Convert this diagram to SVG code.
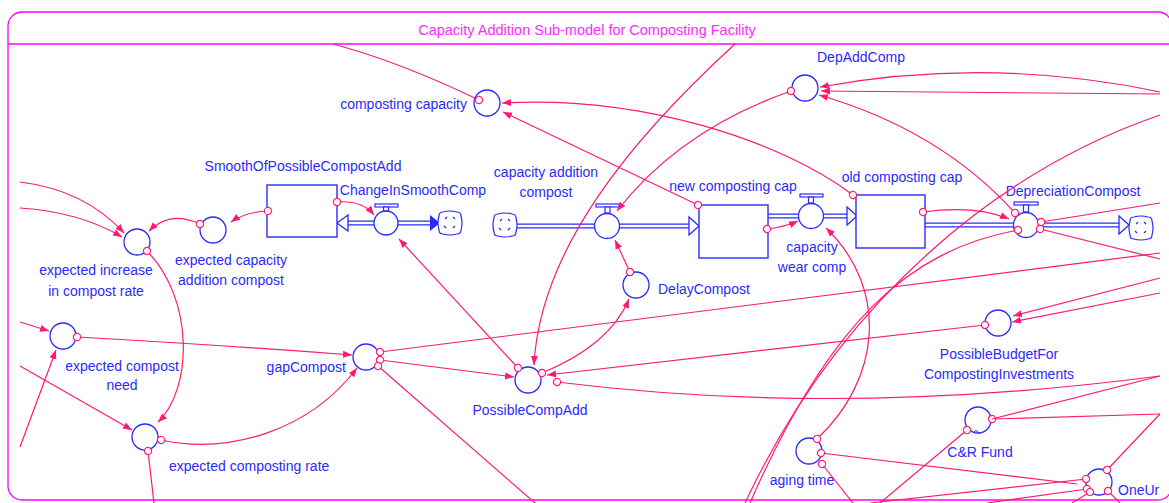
<svg xmlns="http://www.w3.org/2000/svg" width="1169" height="503" viewBox="0 0 1169 503">
<defs>
<style>
.lbl{font-family:"Liberation Sans",Arial,sans-serif;font-size:14px;fill:#2a2aff}
.ttl{font-family:"Liberation Sans",Arial,sans-serif;font-size:14.5px;fill:#ff2bff}
.aux{fill:#fff;stroke:#2a2aff;stroke-width:1.3}
.stock{fill:#fff;stroke:#2a2aff;stroke-width:1.4}
.lk{fill:none;stroke:#ff1a70;stroke-width:1.2}
.o{marker-start:url(#og)}
.a{marker-end:url(#ah)}
.po{fill:none;stroke:#2a2aff;stroke-width:5}
.pi{fill:none;stroke:#fff;stroke-width:2.4}
.ha{fill:#fff;stroke:#2a2aff;stroke-width:1.3}
.vb{fill:#fff;stroke:#2a2aff;stroke-width:1.2}
</style>
<marker id="ah" markerUnits="userSpaceOnUse" markerWidth="10" markerHeight="8" refX="9" refY="4" orient="auto"><path d="M0,0.5 L9,4 L0,7.5 z" fill="#ff1a70"/></marker>
<marker id="og" markerUnits="userSpaceOnUse" markerWidth="10" markerHeight="10" refX="5" refY="5" orient="auto"><circle cx="5" cy="5" r="3.6" fill="#fff" stroke="#ff1a70" stroke-width="1.2"/></marker>
<g id="cloud"><path d="M-7,-11 Q0,-13 7,-11 Q11,-11 11,-7 Q13,0 11,7 Q11,11 7,11 Q0,13 -7,11 Q-11,11 -11,7 Q-13,0 -11,-7 Q-11,-11 -7,-11 z" fill="#fff" stroke="#2a2aff" stroke-width="1.2"/><path d="M-5,-4 l2,-2 M3,-6 l2,2 M5,3 l-2,2 M-4,5 l-2,-2" stroke="#2a2aff" stroke-width="1.2" fill="none"/></g>
<clipPath id="edge"><rect x="0" y="0" width="1161" height="503"/></clipPath>
</defs>

<g id="frame">
<rect x="8" y="12" width="1164" height="488" rx="14" fill="none" stroke="#ff00ff" stroke-width="1.3"/>
<line x1="8" y1="44" x2="1172" y2="44" stroke="#ff00ff" stroke-width="1.3"/>
<text class="ttl" x="587" y="35" text-anchor="middle">Capacity Addition Sub-model for Composting Facility</text>
</g>

<g id="pipes">
<path class="po" d="M348,223 H430"/><path class="pi" d="M348,223 H430"/>
<path class="po" d="M517,226 H690"/><path class="pi" d="M517,226 H690"/>
<path class="po" d="M768,216 H848"/><path class="pi" d="M768,216 H848"/>
<path class="po" d="M925,225 H1120"/><path class="pi" d="M925,225 H1120"/>
<polygon class="ha" points="348,215 337,223 348,231"/>
<polygon points="430,215 440,223 430,231" fill="#2a2aff"/>
<polygon class="ha" points="689,217 699,226 689,235"/>
<polygon class="ha" points="847,207 857,216 847,225"/>
<polygon class="ha" points="1119,216 1129,225 1119,234"/>
<use href="#cloud" x="450" y="223"/>
<use href="#cloud" x="505" y="225"/>
<use href="#cloud" x="1141" y="228"/>
</g>

<g id="SmoothOfPossibleCompostAdd"><rect class="stock" x="267" y="185" width="70" height="52"/><text class="lbl" x="303" y="171" text-anchor="middle">SmoothOfPossibleCompostAdd</text></g>
<g id="new_composting_cap"><rect class="stock" x="699" y="205" width="69" height="53"/><text class="lbl" x="733" y="191" text-anchor="middle">new composting cap</text></g>
<g id="old_composting_cap"><rect class="stock" x="856" y="195" width="69" height="53"/><text class="lbl" x="902" y="182" text-anchor="middle">old composting cap</text></g>

<g id="ChangeInSmoothComp"><rect class="vb" x="375" y="204" width="23" height="3"/><rect class="vb" x="383.5" y="207" width="5" height="4"/><circle class="aux" cx="386" cy="223" r="12"/><text class="lbl" x="413" y="195" text-anchor="middle">ChangeInSmoothComp</text></g>
<g id="capacity_addition_compost"><rect class="vb" x="596" y="204" width="23" height="3"/><rect class="vb" x="605" y="207" width="5" height="6"/><circle class="aux" cx="607" cy="226" r="12.5"/><text class="lbl" x="546" y="177" text-anchor="middle">capacity addition</text><text class="lbl" x="546" y="197" text-anchor="middle">compost</text></g>
<g id="capacity_wear_comp"><rect class="vb" x="800" y="194" width="23" height="3"/><rect class="vb" x="808.5" y="197" width="5" height="6"/><circle class="aux" cx="811" cy="216" r="12.5"/><text class="lbl" x="812" y="252" text-anchor="middle">capacity</text><text class="lbl" x="812" y="272" text-anchor="middle">wear comp</text></g>
<g id="DepreciationCompost"><rect class="vb" x="1014" y="202" width="24" height="3"/><rect class="vb" x="1023.5" y="205" width="5" height="7"/><circle class="aux" cx="1026" cy="225" r="12.5"/><text class="lbl" x="1073" y="196" text-anchor="middle">DepreciationCompost</text></g>

<g id="composting_capacity"><circle class="aux" cx="487" cy="103" r="13"/><text class="lbl" x="467" y="109" text-anchor="end">composting capacity</text></g>
<g id="DepAddComp"><circle class="aux" cx="805" cy="88" r="13"/><text class="lbl" x="817" y="62">DepAddComp</text></g>
<g id="expected_capacity_addition_compost"><circle class="aux" cx="213" cy="230" r="13"/><text class="lbl" x="231" y="265" text-anchor="middle">expected capacity</text><text class="lbl" x="231" y="285" text-anchor="middle">addition compost</text></g>
<g id="expected_increase_in_compost_rate"><circle class="aux" cx="137" cy="242" r="13"/><text class="lbl" x="96" y="275" text-anchor="middle">expected increase</text><text class="lbl" x="96" y="296" text-anchor="middle">in compost rate</text></g>
<g id="expected_compost_need"><circle class="aux" cx="63" cy="336" r="13"/><text class="lbl" x="122" y="371" text-anchor="middle">expected compost</text><text class="lbl" x="122" y="390" text-anchor="middle">need</text></g>
<g id="gapCompost"><circle class="aux" cx="366" cy="357" r="13"/><text class="lbl" x="346" y="372" text-anchor="end">gapCompost</text></g>
<g id="expected_composting_rate"><circle class="aux" cx="145" cy="437" r="13"/><text class="lbl" x="169" y="471">expected composting rate</text></g>
<g id="PossibleCompAdd"><circle class="aux" cx="528" cy="380" r="13"/><text class="lbl" x="530" y="415" text-anchor="middle">PossibleCompAdd</text></g>
<g id="DelayCompost"><circle class="aux" cx="636" cy="285" r="13"/><text class="lbl" x="658" y="294">DelayCompost</text></g>
<g id="PossibleBudgetForCompostingInvestments"><circle class="aux" cx="998" cy="323" r="13"/><text class="lbl" x="999" y="359" text-anchor="middle">PossibleBudgetFor</text><text class="lbl" x="999" y="379" text-anchor="middle">CompostingInvestments</text></g>
<g id="CR_Fund"><circle class="aux" cx="978" cy="420" r="13"/><path d="M974,432 q2,-3 4,0 t4,0" fill="none" stroke="#2a2aff" stroke-width="1"/><text class="lbl" x="980" y="457" text-anchor="middle">C&amp;R Fund</text></g>
<g id="aging_time"><circle class="aux" cx="809" cy="451" r="13"/><text class="lbl" x="802" y="485" text-anchor="middle">aging time</text></g>
<g id="OneUr"><circle class="aux" cx="1099" cy="482" r="13"/><text class="lbl" x="1118" y="495" clip-path="url(#edge)">OneUr</text></g>

<g id="connectors">
<path class="lk o" d="M479,100 Q400,62 333,44"/>
<path class="lk o a" d="M853,195 C780,140 640,95 502,103"/>
<path class="lk o a" d="M698,205 L503,112"/>
<path class="lk o a" d="M1015,213 Q940,130 819,95"/>
<path class="lk a" d="M1160,92 Q990,56 820,87"/>
<path class="lk a" d="M1160,94 L821,91"/>
<path class="lk o a" d="M791,91 Q680,130 617,211"/>
<path class="lk a" d="M735,44 C630,140 540,250 534,365"/>
<path class="lk o a" d="M268,211 Q245,212 231,222"/>
<path class="lk o a" d="M200,224 Q170,210 149,231"/>
<path class="lk o a" d="M337,202 Q362,200 374,215"/>
<path class="lk o a" d="M518,368 L399,239"/>
<path class="lk a" d="M20,182 Q85,190 124,233"/>
<path class="lk a" d="M20,208 Q80,212 122,237"/>
<path class="lk o a" d="M147,251 C195,300 192,390 158,422"/>
<path class="lk o a" d="M77,337 Q220,345 352,355"/>
<path class="lk a" d="M20,322 L49,331"/>
<path class="lk a" d="M20,447 L56,350"/>
<path class="lk a" d="M20,366 L132,430"/>
<path class="lk o a" d="M161,440 C230,455 310,430 357,368"/>
<path class="lk o" d="M148,451 L154,503"/>
<path class="lk o" d="M380,352 L1160,253"/>
<path class="lk o a" d="M380,360 L514,377"/>
<path class="lk o" d="M378,366 L535,503"/>
<path class="lk o a" d="M542,373 Q610,345 629,299"/>
<path class="lk o a" d="M985,325 L547,375"/>
<path class="lk o" d="M557,382 C700,400 900,410 1160,376"/>
<path class="lk o a" d="M630,272 L615,240"/>
<path class="lk o a" d="M767,229 Q785,227 798,221"/>
<path class="lk o a" d="M817,439 C880,380 890,290 826,228"/>
<path class="lk o a" d="M923,212 Q975,205 1009,219"/>
<path class="lk o" d="M1041,222 L1160,203"/>
<path class="lk o" d="M1040,229 L1160,259"/>
<path class="lk a" d="M1160,278 L1013,316"/>
<path class="lk a" d="M1160,293 L1012,322"/>
<path class="lk" d="M1160,115 C1000,170 840,300 745,503"/>
<path class="lk o" d="M1018,230 C910,250 830,320 750,503"/>
<path class="lk o" d="M821,453 L1077,484"/>
<path class="lk o" d="M822,464 L853,503"/>
<path class="lk o" d="M967,430 L880,503"/>
<path class="lk o" d="M992,419 L1160,414"/>
<path class="lk" d="M992,419 L1160,376"/>
<path class="lk o" d="M1107,470 L1160,414"/>
<path class="lk o" d="M1086,479 L870,503"/>
<path class="lk o" d="M1087,489 L987,503"/>
<path class="lk o" d="M1108,491 L1120,503"/>
<path class="lk o" d="M1090,492 L1072,503"/>
</g>
</svg>
